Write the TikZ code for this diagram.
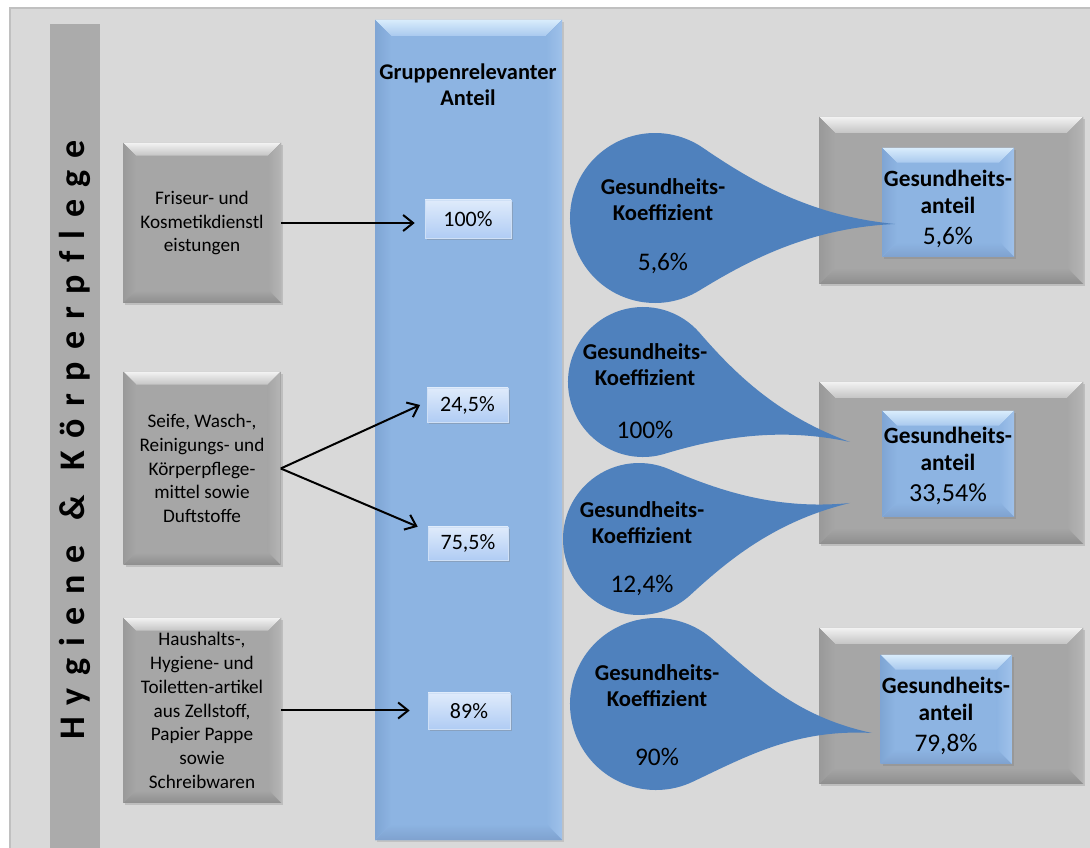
\documentclass[tikz,border=0pt]{standalone}
\usepackage{fontspec}
\setmainfont{Carlito}
\usetikzlibrary{calc,shadows,arrows.meta}
\definecolor{bg}{HTML}{D9D9D9}
\definecolor{frameg}{HTML}{C0C0C0}
\definecolor{barg}{HTML}{ABABAB}
\definecolor{gface}{HTML}{A6A6A6}
\definecolor{gtopA}{HTML}{F2F2F2}
\definecolor{gtopB}{HTML}{C4C4C4}
\definecolor{gleft}{HTML}{999999}
\definecolor{gright}{HTML}{B5B5B5}
\definecolor{gbot}{HTML}{8E8E8E}
\definecolor{cface}{HTML}{8DB4E2}
\definecolor{ctopA}{HTML}{D8ECFC}
\definecolor{ctopB}{HTML}{A9C9EE}
\definecolor{cleft}{HTML}{7FA5D4}
\definecolor{cright}{HTML}{9FC1EA}
\definecolor{cbot}{HTML}{7FA2CF}
\definecolor{pA}{HTML}{DFEBFB}
\definecolor{pB}{HTML}{B0CCF4}
\definecolor{cblue}{HTML}{4F81BD}
\tikzset{
  bevel/.style n args={5}{
    path picture={
      \path (path picture bounding box.north west) coordinate (bbnw)
            (path picture bounding box.north east) coordinate (bbne)
            (path picture bounding box.south west) coordinate (bbsw)
            (path picture bounding box.south east) coordinate (bbse);
      \fill[#2] (bbnw) -- (bbne) -- ([xshift=-#1,yshift=-#1]bbne) -- ([xshift=#1,yshift=-#1]bbnw) -- cycle;
      \fill[#3] (bbnw) -- ([xshift=#1,yshift=-#1]bbnw) -- ([xshift=#1,yshift=#1]bbsw) -- (bbsw) -- cycle;
      \fill[#4] (bbne) -- ([xshift=-#1,yshift=-#1]bbne) -- ([xshift=-#1,yshift=#1]bbse) -- (bbse) -- cycle;
      \fill[#5] (bbsw) -- ([xshift=#1,yshift=#1]bbsw) -- ([xshift=-#1,yshift=#1]bbse) -- (bbse) -- cycle;
    }},
  gbox/.style={fill=gface, inner sep=0pt, align=center,
    drop shadow={shadow xshift=1.5pt, shadow yshift=-1.5pt, opacity=0.3},
    bevel={#1}{top color=gtopA,bottom color=gtopB}{left color=gleft,right color=gface}{left color=gface,right color=gright}{top color=gface,bottom color=gbot},
    font=\fontsize{14.4}{17.8}\selectfont},
  cbox/.style={fill=cface, inner sep=0pt, align=center,
    bevel={#1}{top color=ctopA,bottom color=ctopB}{left color=cleft,right color=cface}{left color=cface,right color=cright}{top color=cface,bottom color=cbot}},
  ibox/.style={cbox=#1, drop shadow={shadow xshift=1.5pt, shadow yshift=-1.5pt, opacity=0.35}},
  itext/.style={font=\fontsize{17.5}{20.5}\selectfont, align=center, inner sep=0pt},
  pbox/.style={top color=pA, bottom color=pB, draw=pA!80!cface, line width=0.4pt, inner sep=0pt,
    drop shadow={shadow xshift=1.2pt, shadow yshift=-1.5pt, opacity=0.35},
    font=\fontsize{16.5}{19}\selectfont},
  arr/.style={line width=1.5pt, -{Straight Barb[length=7.5pt,width=12pt,line width=1.5pt]}},
  ctitle/.style={font=\fontsize{17}{19.5}\selectfont\bfseries, align=center, inner sep=0pt},
  cval/.style={font=\fontsize{19}{22}\selectfont, inner sep=0pt},
}
\newcommand{\tdrop}[6]{%
  \coordinate (#1c) at (#2,#3);
  \coordinate (#1t) at (#5,#6);
  \pgfmathsetmacro\tdphi{atan2(#6-#3,#5-#2)}
  \pgfmathsetmacro\tdua{\tdphi+57}
  \pgfmathsetmacro\tdla{\tdphi-57}
  \pgfmathsetmacro\tdub{\tdua-90}
  \pgfmathsetmacro\tdlb{\tdla+90}
  \pgfmathsetmacro\tdend{\tdua-360}
  \fill[cblue] ($(#1c)+(\tdua:#4)$) .. controls ($(#1c)+(\tdua:#4)+(\tdub:0.7*#4)$) and ($(#1t)!0.35!(#1c)+(0,0.07*#4)$) .. (#1t)
    .. controls ($(#1t)!0.35!(#1c)+(0,-0.07*#4)$) and ($(#1c)+(\tdla:#4)+(\tdlb:0.7*#4)$) .. ($(#1c)+(\tdla:#4)$)
    arc[start angle=\tdla, end angle=\tdend, radius=#4] -- cycle;
}
\begin{document}
\begin{tikzpicture}[x=0.75pt,y=0.75pt]
\useasboundingbox (0,0) rectangle (1090,847);
\fill[white] (0,0) rectangle (1090,847);
\draw[fill=bg, draw=frameg, line width=1.2pt] (10,-20) rectangle (1110,839);
\fill[barg] (50,-20) rectangle (100,823);
\node[rotate=90, inner sep=0pt, font=\fontsize{27}{30}\selectfont\bfseries] (title) at (75,407)
  {\makebox[450pt][s]{H\hfill y\hfill g\hfill i\hfill e\hfill n\hfill e\hfill\hfill \&\hfill\hfill K\hfill ö\hfill r\hfill p\hfill e\hfill r\hfill p\hfill f\hfill l\hfill e\hfill g\hfill e}};

% left boxes
\node[gbox=9.5pt, minimum width=118.5pt, minimum height=120pt] (b1) at (202,624) {Friseur- und\\Kosmetikdienstl\\eistungen};
\node[gbox=9.5pt, minimum width=117.75pt, minimum height=144.75pt] (b2) at (202,378.5) {Seife, Wasch-,\\Reinigungs- und\\Körperpflege-\\mittel sowie\\Duftstoffe};
\node[gbox=9.5pt, minimum width=118.5pt, minimum height=138.75pt] (b3) at (202,136.5) {Haushalts-,\\Hygiene- und\\Toiletten-artikel\\aus Zellstoff,\\Papier Pappe\\sowie\\Schreibwaren};

% blue column
\node[cbox=12pt, minimum width=140.25pt, minimum height=615pt,
  drop shadow={shadow xshift=1.5pt, shadow yshift=-1.5pt, opacity=0.25}] (col) at (468.5,417) {};
\node[font=\fontsize{16.8}{19.5}\selectfont\bfseries, align=center, inner sep=0pt] (hdr) at (468,762) {Gruppenrelevanter\\Anteil};

% percentage boxes
\node[pbox, minimum width=64.5pt, minimum height=28.5pt] (p1) at (468,628) {100\%};
\node[pbox, minimum width=60.75pt, minimum height=25.5pt] (p2) at (467.5,442) {24,5\%};
\node[pbox, minimum width=60pt, minimum height=24.75pt] (p3) at (468,303.5) {75,5\%};
\node[pbox, minimum width=61.5pt, minimum height=27pt] (p4) at (469,136) {89\%};

% arrows
\draw[arr] (b1.east) -- ([xshift=-7.5pt]b1.east -| p1.west);
\draw[arr] (b2.east) -- ([xshift=-5pt]p2.west);
\draw[arr] (b2.east) -- ([xshift=-7.5pt]p3.north west);
\draw[arr] (b3.east) -- ([xshift=-13.5pt]b3.east -| p4.west);

% right boxes
\node[gbox=12pt, minimum width=198pt, minimum height=125.25pt] (r1) at (951,646.5) {};
\node[gbox=12pt, minimum width=198pt, minimum height=121.5pt] (r2) at (951,384) {};
\node[gbox=12pt, minimum width=198pt, minimum height=117pt] (r3) at (951,141) {};
\node[ibox=11pt, minimum width=99pt, minimum height=81.75pt] (i1) at (948,644.5) {};
\node[ibox=11pt, minimum width=99pt, minimum height=79.5pt] (i2) at (948,383) {};
\node[ibox=11pt, minimum width=98.25pt, minimum height=81.75pt] (i3) at (946,137.5) {};
\node[itext] (i1t) at (948,638)
  {\textbf{Gesundheits-}\\\textbf{anteil}\\[3pt]{\fontsize{19}{20}\selectfont 5,6\%}};
\node[itext] (i2t) at (948,381)
  {\textbf{Gesundheits-}\\\textbf{anteil}\\[3pt]{\fontsize{19.5}{20}\selectfont 33,54\%}};
\node[itext] (i3t) at (946,131)
  {\textbf{Gesundheits-}\\\textbf{anteil}\\[3pt]{\fontsize{19}{20}\selectfont 79,8\%}};

% teardrop callouts
\tdrop{ca}{655}{629}{85}{895}{623}
\tdrop{cb}{643}{465}{75}{850}{405}
\tdrop{cc}{639}{308}{76}{850}{344}
\tdrop{cd}{656}{143}{86}{872}{114}

\node[ctitle] (ta) at (663,647) {Gesundheits-\\Koeffizient};
\node[cval] (va) at (663,584) {5,6\%};
\node[ctitle] (tb) at (645,482) {Gesundheits-\\Koeffizient};
\node[cval] (vb) at (645,417) {100\%};
\node[ctitle] (tc) at (642,324) {Gesundheits-\\Koeffizient};
\node[cval] (vc) at (642,262) {12,4\%};
\node[ctitle] (td) at (657,161) {Gesundheits-\\Koeffizient};
\node[cval] (vd) at (657,90) {90\%};
\end{tikzpicture}
\end{document}
